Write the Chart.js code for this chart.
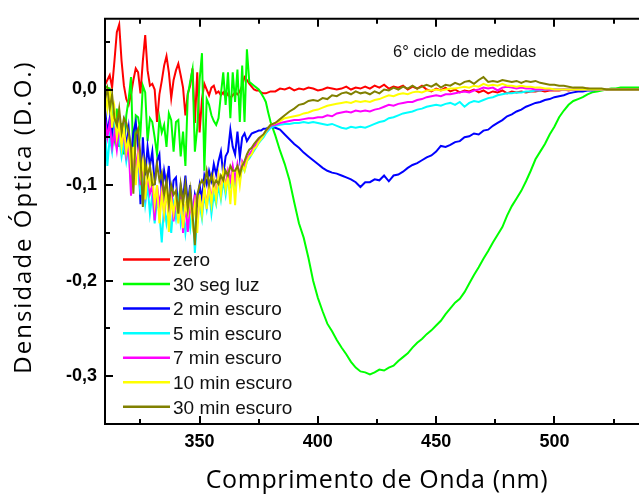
<!DOCTYPE html>
<html><head><meta charset="utf-8">
<script src="https://cdn.jsdelivr.net/npm/chart.js@4.4.0/dist/chart.umd.min.js"></script>
<style>
html,body{margin:0;padding:0;background:#fff;overflow:hidden;width:639px;height:497px}
#wrap{position:absolute;left:0;top:0;width:650px;height:497px}
</style>
</head><body><div id="wrap"><canvas id="c" width="650" height="497"></canvas></div>
<script>
// Wavelength (nm): 1 nm steps 310-380, 2 nm steps 382-540
const wavelength = [310,311,312,313,314,315,316,317,318,319,320,321,322,323,324,325,326,327,328,329,330,331,332,333,334,335,336,337,338,339,340,341,342,343,344,345,346,347,348,349,350,351,352,353,354,355,356,357,358,359,360,361,362,363,364,365,366,367,368,369,370,371,372,373,374,375,376,377,378,379,380,
382,384,386,388,390,392,394,396,398,400,402,404,406,408,410,412,414,416,418,420,422,424,426,428,430,432,434,436,438,440,442,444,446,448,450,452,454,456,458,460,462,464,466,468,470,472,474,476,478,480,482,484,486,488,490,492,494,496,498,500,502,504,506,508,510,512,514,516,518,520,522,524,526,528,530,532,534,536,538,540];

const zero = [0.005,0.010,0.015,0.002,0.030,0.060,0.068,0.030,0.004,-0.010,-0.016,-0.005,0.010,0.022,0.018,-0.004,0.030,0.057,0.020,0.004,0.006,0.000,-0.034,-0.005,0.009,0.025,0.035,0.018,-0.009,0.010,0.020,0.027,0.015,0.002,-0.027,-0.004,0.004,0.022,-0.035,0.018,-0.045,-0.010,0.006,0.000,-0.006,0.002,0.004,-0.004,-0.002,-0.006,-0.003,-0.008,-0.004,-0.009,-0.006,-0.003,-0.005,-0.002,0.004,0.013,0.010,0.006,0.003,0.000,-0.001,-0.001,-0.003,-0.004,-0.004,-0.003,-0.002,
-0.002,0.001,0.000,0.002,-0.001,0.001,0.000,0.002,0.001,-0.001,
0.000,0.002,0.001,0.000,0.001,0.003,0.000,0.002,0.001,0.003,
0.001,0.004,0.002,0.005,0.001,0.003,0.002,0.004,0.000,0.003,
0.001,0.004,0.000,-0.002,0.001,-0.001,0.002,-0.002,0.000,-0.003,
-0.001,-0.002,0.000,-0.003,-0.001,-0.004,-0.002,-0.003,-0.001,-0.004,
-0.002,-0.003,-0.002,-0.003,-0.002,-0.002,-0.001,-0.002,-0.001,-0.001,
-0.001,0.000,-0.001,0.000,0.000,0.000,0.001,0.000,0.000,0.000,
0.000,0.000,0.000,0.000,0.000,0.000,0.000,0.000,0.000,0.000];

const seg30luz = [0.004,0.002,0.001,-0.030,-0.050,-0.020,-0.060,-0.035,-0.068,-0.027,-0.010,0.013,-0.078,-0.027,-0.029,-0.045,0.004,-0.003,-0.054,-0.030,-0.034,-0.050,-0.068,-0.030,-0.045,-0.037,-0.060,-0.025,-0.032,-0.065,-0.034,-0.032,-0.070,-0.044,-0.080,-0.006,0.008,0.021,-0.065,-0.040,0.010,0.038,-0.085,-0.010,-0.016,-0.027,-0.033,-0.037,-0.030,-0.005,0.018,-0.016,0.018,-0.030,0.018,-0.013,0.021,-0.034,0.025,-0.034,0.042,0.008,0.006,0.004,0.002,0.000,-0.004,-0.008,-0.013,-0.024,-0.034,
-0.048,-0.064,-0.078,-0.095,-0.118,-0.140,-0.155,-0.176,-0.200,-0.218,
-0.232,-0.245,-0.253,-0.262,-0.270,-0.277,-0.285,-0.291,-0.295,-0.296,
-0.298,-0.296,-0.293,-0.294,-0.291,-0.289,-0.284,-0.280,-0.276,-0.270,
-0.265,-0.261,-0.256,-0.252,-0.247,-0.242,-0.235,-0.229,-0.223,-0.219,
-0.212,-0.203,-0.194,-0.186,-0.177,-0.169,-0.160,-0.152,-0.144,-0.132,
-0.122,-0.114,-0.106,-0.096,-0.085,-0.073,-0.065,-0.057,-0.047,-0.039,
-0.029,-0.022,-0.016,-0.012,-0.010,-0.008,-0.005,-0.003,-0.002,-0.001,
0.000,0.001,0.001,0.002,0.002,0.002,0.002,0.002,0.002,0.002];

const min2 = [-0.020,-0.045,-0.030,-0.050,-0.025,-0.040,-0.030,-0.055,-0.035,-0.060,-0.040,-0.070,-0.045,-0.034,-0.060,-0.120,-0.050,-0.090,-0.060,-0.080,-0.065,-0.100,-0.075,-0.068,-0.110,-0.085,-0.100,-0.080,-0.120,-0.095,-0.092,-0.130,-0.100,-0.115,-0.090,-0.120,-0.100,-0.135,-0.110,-0.120,-0.100,-0.115,-0.090,-0.099,-0.085,-0.095,-0.078,-0.089,-0.075,-0.065,-0.089,-0.070,-0.065,-0.042,-0.060,-0.068,-0.044,-0.071,-0.050,-0.046,-0.054,-0.050,-0.046,-0.045,-0.044,-0.043,-0.043,-0.041,-0.041,-0.040,-0.039,
-0.040,-0.042,-0.047,-0.052,-0.057,-0.061,-0.066,-0.070,-0.074,-0.078,
-0.082,-0.085,-0.087,-0.088,-0.090,-0.092,-0.094,-0.097,-0.102,-0.097,
-0.097,-0.094,-0.095,-0.090,-0.096,-0.090,-0.089,-0.086,-0.082,-0.079,
-0.077,-0.074,-0.071,-0.069,-0.065,-0.059,-0.060,-0.058,-0.055,-0.054,
-0.050,-0.049,-0.046,-0.047,-0.043,-0.042,-0.038,-0.035,-0.032,-0.028,
-0.026,-0.023,-0.021,-0.018,-0.016,-0.014,-0.013,-0.011,-0.010,-0.008,
-0.007,-0.006,-0.004,-0.003,-0.002,-0.002,-0.001,-0.001,0.000,0.000,
0.000,0.000,0.000,0.000,0.000,0.000,0.000,0.000,0.000,0.000];

const min5 = [-0.040,-0.080,-0.050,-0.065,-0.040,-0.060,-0.050,-0.070,-0.055,-0.075,-0.060,-0.100,-0.080,-0.090,-0.075,-0.110,-0.090,-0.120,-0.100,-0.130,-0.110,-0.140,-0.115,-0.130,-0.160,-0.120,-0.140,-0.125,-0.150,-0.120,-0.135,-0.115,-0.140,-0.125,-0.150,-0.130,-0.145,-0.120,-0.171,-0.130,-0.120,-0.135,-0.110,-0.125,-0.105,-0.130,-0.110,-0.120,-0.100,-0.115,-0.095,-0.110,-0.090,-0.100,-0.085,-0.100,-0.080,-0.095,-0.080,-0.085,-0.075,-0.072,-0.068,-0.064,-0.060,-0.056,-0.053,-0.050,-0.046,-0.043,-0.040,
-0.038,-0.037,-0.036,-0.036,-0.035,-0.035,-0.034,-0.035,-0.034,-0.035,
-0.036,-0.037,-0.036,-0.038,-0.040,-0.041,-0.039,-0.040,-0.039,-0.040,
-0.038,-0.036,-0.034,-0.033,-0.030,-0.029,-0.027,-0.025,-0.024,-0.023,
-0.021,-0.020,-0.018,-0.017,-0.016,-0.017,-0.015,-0.014,-0.016,-0.013,
-0.018,-0.014,-0.012,-0.013,-0.011,-0.009,-0.008,-0.006,-0.005,-0.004,
-0.004,-0.003,-0.003,-0.002,-0.002,-0.001,-0.001,0.000,0.000,0.000,
0.000,0.000,0.000,0.000,0.000,0.000,0.000,0.000,0.000,0.000,
0.000,0.000,0.000,0.000,0.000,0.000,0.000,0.000,0.000,0.000];

const min7 = [-0.030,-0.050,-0.035,-0.060,-0.045,-0.063,-0.040,-0.055,-0.050,-0.070,-0.060,-0.111,-0.070,-0.080,-0.065,-0.100,-0.080,-0.110,-0.090,-0.109,-0.100,-0.137,-0.100,-0.120,-0.105,-0.130,-0.110,-0.125,-0.105,-0.138,-0.115,-0.130,-0.110,-0.150,-0.120,-0.149,-0.120,-0.135,-0.110,-0.140,-0.115,-0.125,-0.105,-0.120,-0.100,-0.115,-0.095,-0.110,-0.090,-0.105,-0.090,-0.100,-0.085,-0.095,-0.080,-0.095,-0.078,-0.090,-0.075,-0.080,-0.072,-0.068,-0.064,-0.060,-0.057,-0.053,-0.050,-0.047,-0.044,-0.041,-0.038,
-0.037,-0.035,-0.034,-0.033,-0.032,-0.032,-0.031,-0.030,-0.030,-0.029,
-0.029,-0.027,-0.028,-0.025,-0.024,-0.023,-0.024,-0.022,-0.023,-0.022,
-0.023,-0.021,-0.020,-0.018,-0.016,-0.017,-0.015,-0.014,-0.013,-0.013,
-0.011,-0.010,-0.008,-0.007,-0.006,-0.007,-0.005,-0.005,-0.004,-0.003,
-0.002,-0.003,-0.001,0.000,0.002,0.001,0.002,-0.001,0.002,0.003,
0.002,0.001,0.002,0.001,0.001,0.000,0.000,0.000,0.000,0.000,
0.000,0.000,0.000,0.000,0.000,0.000,0.000,0.000,0.000,0.000,
0.000,0.000,0.000,0.000,0.000,0.000,0.000,0.000,0.000,0.000];

const min10 = [0.000,-0.020,0.000,-0.040,-0.020,-0.050,-0.035,-0.060,-0.040,-0.065,-0.050,-0.080,-0.060,-0.100,-0.070,-0.090,-0.075,-0.115,-0.085,-0.100,-0.090,-0.120,-0.100,-0.140,-0.110,-0.130,-0.100,-0.149,-0.115,-0.130,-0.110,-0.140,-0.115,-0.145,-0.120,-0.130,-0.110,-0.140,-0.120,-0.150,-0.110,-0.130,-0.100,-0.125,-0.100,-0.120,-0.095,-0.115,-0.090,-0.110,-0.085,-0.105,-0.090,-0.120,-0.085,-0.121,-0.080,-0.100,-0.078,-0.085,-0.075,-0.070,-0.068,-0.062,-0.060,-0.055,-0.052,-0.048,-0.044,-0.040,-0.037,
-0.035,-0.033,-0.030,-0.029,-0.028,-0.027,-0.025,-0.024,-0.022,-0.021,
-0.019,-0.017,-0.016,-0.015,-0.014,-0.013,-0.014,-0.012,-0.013,-0.012,
-0.013,-0.011,-0.010,-0.008,-0.006,-0.007,-0.005,-0.004,-0.005,-0.003,
-0.002,-0.003,-0.001,-0.001,0.000,-0.001,0.000,0.001,0.001,0.002,
0.003,0.002,0.004,0.003,0.006,0.004,0.005,0.004,0.006,0.004,
0.004,0.003,0.004,0.003,0.003,0.002,0.002,0.001,0.001,0.000,
0.000,0.000,0.000,0.000,0.000,0.000,0.000,0.000,0.000,0.000,
0.000,0.000,0.000,0.000,0.000,0.000,0.000,0.000,0.000,0.000];

const min30 = [-0.010,0.001,-0.020,-0.005,-0.030,-0.037,-0.020,-0.044,-0.030,-0.035,-0.045,-0.060,-0.109,-0.047,-0.041,-0.070,-0.123,-0.077,-0.090,-0.080,-0.100,-0.099,-0.078,-0.095,-0.087,-0.110,-0.095,-0.120,-0.100,-0.110,-0.106,-0.130,-0.100,-0.120,-0.099,-0.125,-0.105,-0.130,-0.163,-0.110,-0.100,-0.095,-0.100,-0.085,-0.100,-0.090,-0.100,-0.095,-0.099,-0.090,-0.095,-0.085,-0.090,-0.080,-0.085,-0.085,-0.080,-0.089,-0.080,-0.075,-0.068,-0.063,-0.061,-0.057,-0.054,-0.051,-0.049,-0.047,-0.043,-0.040,-0.037,
-0.035,-0.031,-0.027,-0.023,-0.020,-0.016,-0.015,-0.012,-0.011,-0.012,
-0.009,-0.010,-0.006,-0.007,-0.004,-0.003,-0.005,-0.002,-0.004,-0.003,
-0.005,-0.002,-0.004,0.000,-0.001,0.002,0.000,0.003,0.001,0.004,
0.001,0.003,0.005,0.003,0.006,0.002,0.005,0.004,0.007,0.005,
0.008,0.009,0.006,0.010,0.013,0.008,0.009,0.008,0.010,0.009,
0.008,0.009,0.007,0.009,0.008,0.009,0.007,0.006,0.005,0.005,
0.004,0.004,0.003,0.002,0.002,0.002,0.001,0.001,0.001,0.001,
0.000,0.000,0.000,0.000,0.000,0.000,0.000,0.000,0.000,0.000];

const seriesNames = ['zero','30 seg luz','2 min escuro','5 min escuro','7 min escuro','10 min escuro','30 min escuro'];
const seriesValues = [zero, seg30luz, min2, min5, min7, min10, min30];
const seriesColors = ['#ff0000','#00ff00','#0000ff','#00ffff','#ff00ff','#ffff00','#808000'];

const xMajorTicks = [350,400,450,500];
const xMinorTicks = [325,375,425,475,525];
const yMajorTicks = [0,-0.1,-0.2,-0.3];
const yMinorTicks = [0.05,-0.05,-0.15,-0.25];

const xTitle = 'Comprimento de Onda (nm)';
const yTitle = 'Densidade Óptica (D.O.)';
const note = '6° ciclo de medidas';

const decor = {
  id: 'decor',
  afterDraw(chart) {
    const {ctx, chartArea: a, scales: {x, y}} = chart;
    ctx.save();
    ctx.strokeStyle = '#000';
    ctx.lineWidth = 2;
    ctx.beginPath();
    ctx.moveTo(a.right + 1, a.top); ctx.lineTo(a.left, a.top);
    ctx.lineTo(a.left, a.bottom); ctx.lineTo(a.right + 1, a.bottom);
    ctx.stroke();
    const seg = (x1, y1, x2, y2) => { ctx.beginPath(); ctx.moveTo(x1, y1); ctx.lineTo(x2, y2); ctx.stroke(); };
    xMajorTicks.forEach(v => { const p = Math.round(x.getPixelForValue(v)); seg(p, a.bottom, p, a.bottom - 8); seg(p, a.top, p, a.top + 8); });
    xMinorTicks.forEach(v => { const p = Math.round(x.getPixelForValue(v)); seg(p, a.bottom, p, a.bottom - 5); seg(p, a.top, p, a.top + 5); });
    yMajorTicks.forEach(v => { const p = Math.round(y.getPixelForValue(v)); seg(a.left, p, a.left + 8, p); });
    yMinorTicks.forEach(v => { const p = Math.round(y.getPixelForValue(v)); seg(a.left, p, a.left + 5, p); });

    // legend
    ctx.font = '19px "Liberation Sans", Arial, sans-serif';
    ctx.textBaseline = 'alphabetic';
    ctx.textAlign = 'left';
    chart.data.datasets.forEach((ds, i) => {
      const ly = 259.5 + i * 24.55;
      ctx.strokeStyle = ds.borderColor;
      ctx.lineWidth = 2.5;
      seg(123, ly, 170, ly);
      ctx.fillStyle = '#111';
      ctx.fillText(ds.label, 173, ly + 6.7);
    });

    // annotation
    ctx.font = '16.5px "Liberation Sans", Arial, sans-serif';
    ctx.fillStyle = '#111';
    ctx.fillText(note, 393, 56.5);

    // axis titles
    ctx.fillStyle = '#000';
    ctx.textAlign = 'center';
    ctx.font = '25px "Open Sans", sans-serif';
    try { ctx.letterSpacing = '0.6px'; } catch (e) {}
    ctx.fillText(xTitle, 377, 488);
    ctx.save();
    ctx.translate(31, 217);
    ctx.rotate(-Math.PI / 2);
    ctx.font = '24px "Open Sans", sans-serif';
    try { ctx.letterSpacing = '2px'; } catch (e) {}
    ctx.fillText(yTitle, 0, 0);
    ctx.restore();
    ctx.restore();
  }
};

new Chart(document.getElementById('c'), {
  type: 'line',
  data: {
    datasets: seriesNames.map((name, i) => ({
      label: name,
      data: wavelength.map((w, j) => ({x: w, y: seriesValues[i][j]})),
      borderColor: seriesColors[i],
      backgroundColor: seriesColors[i],
      borderWidth: 2,
      pointRadius: 0,
      tension: 0,
      fill: false,
      order: 7 - i
    }))
  },
  options: {
    responsive: false,
    animation: false,
    devicePixelRatio: 1,
    layout: {padding: {left: 0, right: 1, top: 13, bottom: 0}},
    plugins: {legend: {display: false}, tooltip: {enabled: false}, title: {display: false}},
    scales: {
      x: {
        type: 'linear', min: 310, max: 540,
        grid: {display: false, drawTicks: false},
        border: {display: false},
        afterBuildTicks: s => { s.ticks = xMajorTicks.map(v => ({value: v})); },
        ticks: {padding: 7, color: '#000', autoSkip: false, maxRotation: 0,
                font: {family: '"Liberation Sans", Arial, sans-serif', size: 18, weight: 'bold'},
                callback: v => String(v)},
        afterFit: s => { s.height = 73; }
      },
      y: {
        type: 'linear', min: -0.35, max: 0.074,
        grid: {display: false, drawTicks: false},
        border: {display: false},
        afterBuildTicks: s => { s.ticks = yMajorTicks.map(v => ({value: v})); },
        ticks: {padding: 8, color: '#000', autoSkip: false,
                font: {family: '"Liberation Sans", Arial, sans-serif', size: 18, weight: 'bold'},
                callback: v => Number(v).toFixed(1).replace('.', ',')},
        afterFit: s => { s.width = 105; }
      }
    }
  },
  plugins: [decor]
});
</script></body></html>
